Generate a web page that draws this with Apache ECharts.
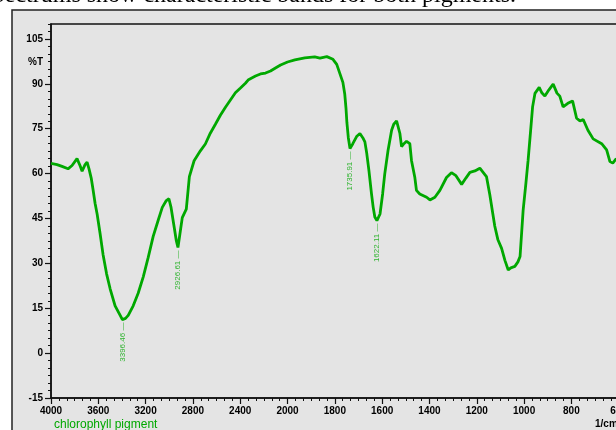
<!DOCTYPE html>
<html>
<head>
<meta charset="utf-8">
<script src="https://cdn.jsdelivr.net/npm/echarts@6/dist/echarts.min.js"></script>
<style>
  html, body { margin: 0; padding: 0; background: #fff; }
  #chart { width: 616px; height: 430px; }
</style>
</head>
<body>
<div id="chart"></div>
<script>
// IR spectrum of the chlorophyll pigment: wavenumber (1/cm) against transmittance (%T)
const wavenumbers = [
  4000, 3949, 3907, 3856, 3822, 3780, 3754, 3737, 3712, 3695, 3678, 3660, 3644, 3627, 3610,
  3585, 3560, 3530, 3500, 3458, 3415, 3396.46, 3370, 3347, 3305, 3263, 3220, 3178, 3136, 3093,
  3059, 3025, 3003, 2985, 2960, 2940, 2926.61, 2910, 2890, 2856, 2830, 2790, 2737, 2695, 2653,
  2610, 2568, 2525, 2483, 2441, 2398, 2356, 2330, 2314, 2271, 2229, 2186, 2144, 2102, 2059,
  2000, 1969, 1927, 1885, 1863, 1834, 1808, 1792, 1779, 1766, 1758, 1753, 1749, 1743, 1735.91,
  1724, 1707, 1694, 1682, 1673, 1665, 1656, 1645, 1638, 1631, 1622.11, 1609, 1598, 1589, 1575,
  1560, 1551, 1539, 1525, 1518, 1508, 1497, 1483, 1476, 1462, 1455, 1441, 1412, 1398, 1377,
  1356, 1328, 1307, 1288, 1264, 1246, 1229, 1208, 1187, 1174, 1159, 1145, 1132, 1124, 1111,
  1095, 1081, 1067, 1056, 1039, 1026, 1017, 1004, 992, 983, 971, 964, 954, 936, 925,
  912, 895, 877, 861, 849, 835, 815, 795, 778, 764, 750, 730, 708, 672, 651,
  637, 625, 612, 605
];
const transmittance = [
  63.4, 63.0, 62.4, 61.6, 62.7, 65.0, 62.6, 60.8, 63.0, 63.8, 61.5, 58.5, 54.5, 50.0, 46.5,
  40.0, 33.0, 26.5, 21.5, 15.8, 12.6, 11.2, 11.6, 12.6, 15.8, 20.0, 25.5, 32.0, 39.0, 44.5,
  48.7, 51.0, 51.6, 48.7, 42.5, 37.5, 35.3, 39.8, 45.3, 48.1, 59.0, 64.3, 67.6, 69.9, 73.5,
  76.5, 79.5, 82.2, 84.6, 87.0, 88.6, 90.2, 91.4, 90.8, 92.6, 93.3, 93.6, 94.3, 95.3, 96.3,
  97.3, 98.0, 98.7, 99.0, 98.6, 99.1, 98.2, 96.5, 93.5, 90.5, 86.5, 82.0, 77.0, 72.0, 68.4,
  70.0, 72.5, 73.4, 72.0, 70.6, 66.7, 61.1, 53.2, 48.8, 45.5, 44.3, 46.5, 53.2, 59.9, 67.8,
  74.5, 76.5, 77.6, 73.4, 69.0, 70.0, 70.8, 70.0, 64.4, 58.8, 54.4, 53.2, 52.1, 51.2, 52.1,
  54.4, 58.7, 60.3, 59.3, 56.4, 58.5, 60.4, 60.9, 61.8, 60.5, 59.0, 53.0, 46.5, 42.5, 38.0,
  35.0, 31.0, 27.8, 28.5, 29.0, 30.5, 32.3, 47.7, 57.0, 64.4, 75.6, 82.3, 86.8, 88.8, 87.0,
  85.9, 88.0, 89.9, 86.9, 85.9, 82.3, 83.5, 84.3, 78.5, 77.6, 78.1, 74.5, 71.6, 70.0, 67.9,
  64.0, 63.5, 64.8, 65.0
];
// Absorption minima that carry a wavenumber label
const peakWavenumbers = [3396.46, 2926.61, 1735.91, 1622.11];

// Axis tick labels
const xTicks = [4000, 3600, 3200, 2800, 2400, 2000, 1800, 1600, 1400, 1200, 1000, 800, 600];
const yTicks = [-15, 0, 15, 30, 45, 60, 75, 90, 105];

const GREEN = '#00a800';
const LABEL_FONT = '"Liberation Sans", Arial, sans-serif';

// The wavenumber scale is compressed by half above 2000 1/cm.
function toU(w) { return w >= 2000 ? 2000 + (w - 2000) / 2 : w; }

const xTickU = xTicks.map(toU);
const xMinorU = [];
for (let i = 0; i <= 78; i++) { if (i % 6 !== 0) xMinorU.push(400 + i * 200 / 6); }
const yMinor = [];
for (let i = 0; i <= 50; i++) { if (i % 6 !== 0) yMinor.push(-15 + i * 2.5); }

const spectrum = wavenumbers.map((w, i) => [toU(w), transmittance[i]]);
const peaks = peakWavenumbers.map(w => [toU(w), transmittance[wavenumbers.indexOf(w)], w]);

const chart = echarts.init(document.getElementById('chart'), null, { renderer: 'canvas' });

const baseX = { type: 'value', min: 400, max: 3000, inverse: true, position: 'bottom', splitLine: { show: false } };
const baseY = { type: 'value', min: -15, max: 110, position: 'left', splitLine: { show: false } };

chart.setOption({
  animation: false,
  backgroundColor: '#fff',
  grid: {
    left: 51, top: 24, width: 615, height: 374,
    outerBoundsMode: 'none',
    show: true, borderColor: '#111', borderWidth: 1.5, backgroundColor: 'transparent'
  },
  xAxis: [
    Object.assign({}, baseX, {
      axisLine: { show: true, onZero: false, lineStyle: { color: '#111', width: 1.5 } },
      axisTick: { show: true, length: 6, customValues: xTickU, lineStyle: { color: '#111', width: 1.2 } },
      axisLabel: {
        customValues: xTickU, margin: 8, color: '#000', fontSize: 10, fontWeight: 'bold',
        fontFamily: LABEL_FONT,
        formatter: v => String(xTicks[xTickU.indexOf(v)])
      }
    }),
    Object.assign({}, baseX, {
      axisLine: { show: false, onZero: false },
      axisTick: { show: true, length: 3, customValues: xMinorU, lineStyle: { color: '#111', width: 1 } },
      axisLabel: { show: false }
    })
  ],
  yAxis: [
    Object.assign({}, baseY, {
      axisLine: { show: true, onZero: false, lineStyle: { color: '#111', width: 1.5 } },
      axisTick: { show: true, length: 6, customValues: yTicks, lineStyle: { color: '#111', width: 1.2 } },
      axisLabel: {
        customValues: yTicks, margin: 8, color: '#000', fontSize: 10, fontWeight: 'bold',
        fontFamily: LABEL_FONT
      }
    }),
    Object.assign({}, baseY, {
      axisLine: { show: false, onZero: false },
      axisTick: { show: true, length: 3, customValues: yMinor, lineStyle: { color: '#111', width: 1 } },
      axisLabel: { show: false }
    })
  ],
  series: [
    {
      name: 'chlorophyll pigment',
      type: 'line',
      data: spectrum,
      showSymbol: false,
      silent: true,
      lineStyle: { color: GREEN, width: 2.8 },
      z: 3
    },
    {
      name: 'peaks',
      type: 'scatter',
      data: peaks,
      symbolSize: 0,
      silent: true,
      label: {
        show: true,
        position: 'bottom',
        distance: 3,
        rotate: 90,
        align: 'right',
        verticalAlign: 'middle',
        color: GREEN,
        fontSize: 8,
        fontFamily: LABEL_FONT,
        formatter: p => p.value[2].toFixed(2) + ' \u2014'
      },
      z: 4
    }
  ],
  graphic: [
    {
      type: 'rect', z: -10, silent: true,
      shape: { x: 12, y: 10, width: 640, height: 440 },
      style: { fill: '#e4e4e4', stroke: '#222', lineWidth: 1.5 }
    },
    {
      type: 'text', z: 5, silent: true,
      style: {
        x: 516, y: 8, text: 'spectrums show characteristic bands for both pigments.',
        font: '24px "Liberation Serif", "Times New Roman", serif',
        fill: '#000', align: 'right', verticalAlign: 'bottom'
      }
    },
    {
      type: 'text', z: 5, silent: true,
      style: {
        x: 43, y: 62, text: '%T', font: 'bold 10px ' + LABEL_FONT,
        fill: '#000', align: 'right', verticalAlign: 'middle'
      }
    },
    {
      type: 'text', z: 5, silent: true,
      style: {
        x: 54, y: 425, text: 'chlorophyll pigment', font: '12px ' + LABEL_FONT,
        fill: GREEN, align: 'left', verticalAlign: 'middle'
      }
    },
    {
      type: 'text', z: 5, silent: true,
      style: {
        x: 595, y: 424, text: '1/cm', font: 'bold 10px ' + LABEL_FONT,
        fill: '#000', align: 'left', verticalAlign: 'middle'
      }
    }
  ]
});
</script>
</body>
</html>
